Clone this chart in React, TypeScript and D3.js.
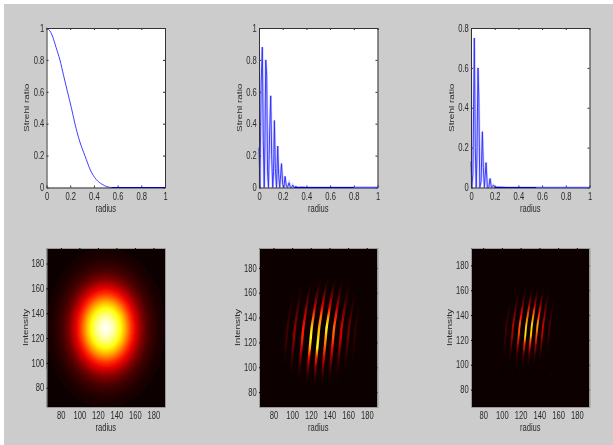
import React, { useEffect, useRef } from 'react';
import * as d3 from 'd3';

// line panels (radius, Strehl ratio)
const radius1 = [0, 0.02, 0.05, 0.08, 0.113, 0.145, 0.177, 0.21, 0.24, 0.28, 0.324, 0.37, 0.42, 0.47, 0.55, 0.7, 1];
const strehl1 = [1, 0.99, 0.95, 0.88, 0.8, 0.7, 0.6, 0.5, 0.4, 0.29, 0.2, 0.11, 0.05, 0.02, 0, 0, 0];
const radius2 = [0, 0.008, 0.018, 0.028, 0.036, 0.044, 0.05, 0.057, 0.065, 0.072, 0.08, 0.09, 0.099, 0.107, 0.116, 0.123, 0.13, 0.138, 0.148, 0.158, 0.166, 0.175, 0.19, 0.2, 0.21, 0.22, 0.23, 0.24, 0.254, 0.265, 0.275, 0.285, 0.295, 0.31, 0.33, 0.36, 0.4, 0.6, 1];
const strehl2 = [0.25, 0, 0.65, 0.88, 0.3, 0, 0.28, 0.8, 0.7, 0.1, 0, 0.35, 0.575, 0.2, 0, 0.1, 0.42, 0.12, 0, 0.26, 0.08, 0, 0.15, 0.02, 0, 0.07, 0.01, 0, 0.03, 0, 0, 0.015, 0, 0.006, 0, 0.002, 0, 0, 0];
const radius3 = [0, 0.007, 0.016, 0.028, 0.036, 0.044, 0.05, 0.059, 0.066, 0.074, 0.085, 0.096, 0.104, 0.113, 0.127, 0.138, 0.15, 0.161, 0.172, 0.19, 0.2, 0.22, 0.3, 1];
const strehl3 = [0.13, 0, 0.07, 0.75, 0.2, 0, 0.16, 0.6, 0.45, 0, 0.03, 0.28, 0.1, 0, 0.125, 0, 0, 0.045, 0, 0.012, 0, 0.002, 0, 0];

const ticks01 = [0, 0.2, 0.4, 0.6, 0.8, 1];
const ticks08 = [0, 0.2, 0.4, 0.6, 0.8];
const ticksImg = [80, 100, 120, 140, 160, 180];

// left image: radial profile, in data units from the centre
const beamRadius = [0, 4, 8, 12, 16, 20, 24, 28, 32, 36, 40, 44, 48, 52, 56, 60, 64, 68, 72];
const beamLevel = [1, 0.97, 0.92, 0.85, 0.76, 0.66, 0.55, 0.44, 0.34, 0.25, 0.17, 0.12, 0.08, 0.055, 0.035, 0.02, 0.01, 0.004, 0];

// fringe images: each row of a table is one fringe, each column one height
const fringeRows = [172, 164, 156, 148, 140, 132, 124, 116, 108, 100, 92, 84];
const fringeShift = [11, 8, 6, 4.2, 2.6, 1, 0, -1, -2, -3, -3.5, -4];

const fringeX5 = [94, 102, 111, 120, 128, 136, 144, 152, 160, 167];
const fringeLevel5 = [
  [0, 0, 0.01, 0.03, 0.05, 0.07, 0.07, 0.05, 0.02, 0, 0, 0],
  [0, 0.01, 0.03, 0.08, 0.14, 0.2, 0.2, 0.14, 0.07, 0.02, 0, 0],
  [0, 0.02, 0.08, 0.18, 0.3, 0.4, 0.42, 0.3, 0.16, 0.06, 0.01, 0],
  [0, 0.04, 0.14, 0.3, 0.5, 0.68, 0.78, 0.62, 0.35, 0.14, 0.04, 0],
  [0, 0.05, 0.18, 0.36, 0.55, 0.62, 0.7, 0.78, 0.42, 0.18, 0.05, 0],
  [0, 0.05, 0.18, 0.35, 0.6, 0.78, 0.62, 0.5, 0.32, 0.15, 0.04, 0],
  [0, 0.04, 0.12, 0.25, 0.42, 0.52, 0.5, 0.36, 0.22, 0.09, 0.02, 0],
  [0, 0.02, 0.06, 0.13, 0.22, 0.3, 0.3, 0.2, 0.1, 0.04, 0.01, 0],
  [0, 0, 0.02, 0.05, 0.1, 0.14, 0.14, 0.09, 0.04, 0.01, 0, 0],
  [0, 0, 0, 0.01, 0.03, 0.05, 0.05, 0.03, 0.01, 0, 0, 0],
];

const fringeX6 = [104, 111, 118, 125, 131, 137, 143, 150];
const fringeLevel6 = [
  [0, 0, 0, 0.02, 0.05, 0.08, 0.08, 0.04, 0.01, 0, 0, 0],
  [0, 0, 0.02, 0.08, 0.18, 0.26, 0.24, 0.12, 0.03, 0, 0, 0],
  [0, 0, 0.04, 0.18, 0.36, 0.5, 0.46, 0.24, 0.06, 0, 0, 0],
  [0, 0, 0.05, 0.24, 0.5, 0.66, 0.72, 0.4, 0.1, 0.01, 0, 0],
  [0, 0, 0.05, 0.26, 0.55, 0.7, 0.66, 0.38, 0.09, 0.01, 0, 0],
  [0, 0, 0.04, 0.2, 0.42, 0.62, 0.48, 0.24, 0.06, 0, 0, 0],
  [0, 0, 0.02, 0.09, 0.2, 0.3, 0.26, 0.12, 0.03, 0, 0, 0],
  [0, 0, 0, 0.02, 0.06, 0.1, 0.08, 0.03, 0, 0, 0, 0],
];

const hot = d3.scaleLinear<string>()
  .domain([0, 0.375, 0.75, 1])
  .range(['#0b0000', '#ff0000', '#ffff00', '#ffffff'])
  .clamp(true);

const columnsLeft = [46.5, 259, 471];
const plotWidth = 118.5;
const topBox = [28, 187.5];
const imgBox = [248, 407];
const squeeze = 0.76; // the text in the picture is narrowed horizontally

const App = () => {
  const svgRef = useRef<SVGSVGElement>(null);

  useEffect(() => {
    document.body.style.margin = '0';
    const svg = d3.select(svgRef.current);
    svg.selectAll('*').remove();

    const defs = svg.append('defs');
    const soft = defs.append('filter').attr('id', 'soft')
      .attr('filterUnits', 'userSpaceOnUse')
      .attr('x', 0).attr('y', 0).attr('width', 613).attr('height', 445);
    soft.append('feGaussianBlur').attr('stdDeviation', 0.45);
    const fringeBlur = defs.append('filter').attr('id', 'fringeBlur')
      .attr('filterUnits', 'userSpaceOnUse')
      .attr('x', 0).attr('y', 0).attr('width', 613).attr('height', 445);
    fringeBlur.append('feGaussianBlur').attr('stdDeviation', 0.7);

    svg.append('rect').attr('width', 613).attr('height', 445).attr('fill', '#fff');
    svg.append('rect').attr('x', 4).attr('y', 4).attr('width', 609).attr('height', 441).attr('fill', '#cccccc');

    const root = svg.append('g').attr('filter', 'url(#soft)')
      .style('font-family', '"Liberation Sans", Arial, sans-serif')
      .style('font-size', '10px');

    const drawAxes = (x, y, xTicks, yTicks, yLabel, labelGap, fmt, box, color, tickColor) => {
      const [top, bottom] = box;
      const left = x.range()[0];
      const right = x.range()[1];
      const g = root.append('g');
      g.append('g').attr('transform', `translate(0,${bottom})`)
        .call(d3.axisBottom(x).tickValues(xTicks).tickSizeInner(-2).tickSizeOuter(0).tickPadding(5).tickFormat(fmt));
      g.append('g').attr('transform', `translate(${left},0)`)
        .call(d3.axisLeft(y).tickValues(yTicks).tickSizeInner(-2).tickSizeOuter(0).tickPadding(3).tickFormat(fmt));
      g.append('g').attr('transform', `translate(0,${top})`)
        .call(d3.axisTop(x).tickValues(xTicks).tickSizeInner(-2).tickSizeOuter(0).tickFormat(() => ''));
      g.append('g').attr('transform', `translate(${right},0)`)
        .call(d3.axisRight(y).tickValues(yTicks).tickSizeInner(-2).tickSizeOuter(0).tickFormat(() => ''));
      g.selectAll('.domain').attr('stroke', color);
      g.selectAll('.tick line').attr('stroke', tickColor);
      g.selectAll('text')
        .attr('fill', '#2a2a2a')
        .attr('transform', `scale(${squeeze},1)`)
        .style('font-size', '10px')
        .style('font-family', 'inherit');
      root.append('text')
        .attr('transform', `translate(${(left + right) / 2},${bottom + 24}) scale(${squeeze},1)`)
        .attr('text-anchor', 'middle').attr('fill', '#2a2a2a').text('radius');
      root.append('text')
        .attr('transform', `translate(${left - labelGap},${(top + bottom) / 2}) scale(${squeeze},1) rotate(-90)`)
        .attr('text-anchor', 'middle').attr('fill', '#2a2a2a').text(yLabel);
    };

    // top row
    const lines = [
      { xs: radius1, ys: strehl1, max: 1, ticks: ticks01, dark: 0.55, darkEnd: 1, smooth: true },
      { xs: radius2, ys: strehl2, max: 1, ticks: ticks01, dark: 0.3, darkEnd: 0.8, smooth: false },
      { xs: radius3, ys: strehl3, max: 0.8, ticks: ticks08, dark: 0.2, darkEnd: 0.55, smooth: false },
    ];
    lines.forEach((p, i) => {
      const x = d3.scaleLinear().domain([0, 1]).range([columnsLeft[i], columnsLeft[i] + plotWidth]);
      const y = d3.scaleLinear().domain([0, p.max]).range([topBox[1], topBox[0]]);
      root.append('rect').attr('x', x(0)).attr('y', y(p.max))
        .attr('width', plotWidth).attr('height', topBox[1] - topBox[0]).attr('fill', '#fff');
      const line = d3.line<number>().x((_, k) => x(p.xs[k])).y(d => y(d));
      if (p.smooth) line.curve(d3.curveMonotoneX);
      if (!p.smooth) {
        // pale halo of the undersampled oscillation
        root.append('path').attr('d', line(p.ys)).attr('fill', 'none')
          .attr('stroke', '#a8a8ff').attr('stroke-width', 2.4).attr('opacity', 0.55);
      }
      root.append('path').attr('d', line(p.ys)).attr('fill', 'none').attr('stroke', '#2a2aff').attr('stroke-width', 0.9);
      drawAxes(x, y, ticks01, p.ticks, 'Strehl ratio', 17.5, d3.format('~g'), topBox, '#333', '#333');
      // the tail of the line looks heavier where it lies on the axis
      root.append('line').attr('x1', x(p.dark)).attr('x2', x(p.darkEnd))
        .attr('y1', y(0)).attr('y2', y(0)).attr('stroke', '#0000c0').attr('stroke-width', 1.2);
      root.append('line').attr('x1', x(p.darkEnd)).attr('x2', x(1))
        .attr('y1', y(0)).attr('y2', y(0)).attr('stroke', '#4a4aff').attr('stroke-width', 1.2);
    });

    // bottom row
    const images = [
      { xd: [64.5, 192.5], yd: [64.5, 192.5] },
      { xd: [64.5, 191.5], yd: [68, 196], fx: fringeX5, levels: fringeLevel5, width: 2.4 },
      { xd: [67, 193.5], yd: [66, 194], fx: fringeX6, levels: fringeLevel6, width: 1.9 },
    ];
    images.forEach((im, i) => {
      const x = d3.scaleLinear().domain(im.xd).range([columnsLeft[i], columnsLeft[i] + plotWidth]);
      const y = d3.scaleLinear().domain(im.yd).range([imgBox[1], imgBox[0]]);
      const clipId = `clip${i}`;
      defs.append('clipPath').attr('id', clipId).append('rect')
        .attr('x', x.range()[0]).attr('y', imgBox[0]).attr('width', plotWidth).attr('height', imgBox[1] - imgBox[0]);
      const g = root.append('g').attr('clip-path', `url(#${clipId})`);
      g.append('rect').attr('x', x.range()[0]).attr('y', imgBox[0])
        .attr('width', plotWidth).attr('height', imgBox[1] - imgBox[0]).attr('fill', hot(0));

      if (!im.fx) {
        const maxR = d3.max(beamRadius);
        const grad = defs.append('radialGradient').attr('id', 'beam');
        beamRadius.forEach((r, k) => {
          grad.append('stop').attr('offset', r / maxR).attr('stop-color', hot(beamLevel[k]));
        });
        g.append('ellipse').attr('cx', x(128.5)).attr('cy', y(128))
          .attr('rx', x(128.5 + maxR) - x(128.5)).attr('ry', y(128) - y(128 + maxR))
          .attr('fill', 'url(#beam)');
      } else {
        const fg = g.append('g').attr('filter', 'url(#fringeBlur)');
        im.fx.forEach((cx, f) => {
          const gid = `fr${i}-${f}`;
          const grad = defs.append('linearGradient').attr('id', gid)
            .attr('gradientUnits', 'userSpaceOnUse')
            .attr('x1', 0).attr('x2', 0)
            .attr('y1', y(fringeRows[0])).attr('y2', y(fringeRows[fringeRows.length - 1]));
          fringeRows.forEach((_, k) => {
            grad.append('stop').attr('offset', k / (fringeRows.length - 1))
              .attr('stop-color', hot(im.levels[f][k]));
          });
          const path = d3.line<number>()
            .x((_, k) => x(cx + fringeShift[k]))
            .y(d => y(d))
            .curve(d3.curveMonotoneY);
          fg.append('path').attr('d', path(fringeRows)).attr('fill', 'none')
            .attr('stroke', `url(#${gid})`).attr('stroke-width', im.width);
        });
      }
      drawAxes(x, y, ticksImg, ticksImg, 'Intensity', 19, d3.format('d'), imgBox, '#999', '#0b0000');
    });
  }, []);

  return <svg ref={svgRef} width={613} height={445} style={{ display: 'block' }} />;
};

export default App;
